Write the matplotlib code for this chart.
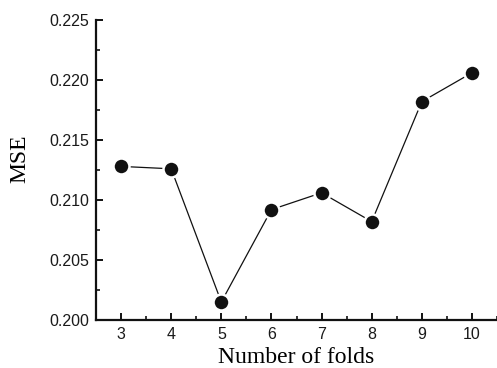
import matplotlib
matplotlib.use("Agg")
import matplotlib.pyplot as plt
from matplotlib.ticker import MultipleLocator

folds = [3, 4, 5, 6, 7, 8, 9, 10]
mse = [0.2128, 0.2126, 0.2015, 0.2092, 0.2106, 0.2082, 0.2182, 0.2206]
xticks = [3, 4, 5, 6, 7, 8, 9, 10]
yticks = [0.200, 0.205, 0.210, 0.215, 0.220, 0.225]

fig = plt.figure(figsize=(4.97, 3.68), dpi=100)
ax = fig.add_axes([96/497, 48/368, 401/497, 300/368])

ax.plot(folds, mse, color="#111111", lw=0.9, marker="o", markersize=11.5,
        markerfacecolor="#111111", markeredgecolor="white", markeredgewidth=1.8,
        clip_on=False, zorder=3)

ax.set_xlim(2.5, 10.5)
ax.set_ylim(0.200, 0.225)
ax.set_xticks(xticks)
ax.set_yticks(yticks)
ax.set_yticklabels([f"{v:.3f}" for v in yticks])
ax.xaxis.set_minor_locator(MultipleLocator(0.5))
ax.yaxis.set_minor_locator(MultipleLocator(0.0025))

for s in ["top", "right"]:
    ax.spines[s].set_visible(False)
for s in ["left", "bottom"]:
    ax.spines[s].set_linewidth(1.6)
    ax.spines[s].set_color("#111111")

ax.tick_params(which="major", direction="in", length=5, width=1.4, color="#111111",
               labelsize=11.5, pad=5)
ax.tick_params(which="minor", direction="in", length=3, width=1.2, color="#111111")
for lab in ax.get_xticklabels() + ax.get_yticklabels():
    lab.set_fontfamily("Liberation Sans")
    lab.set_color("#1a1a1a")

ax.set_xlabel("Number of folds", fontfamily="Liberation Serif", fontsize=17, labelpad=3.5)
ax.set_ylabel("MSE", fontfamily="Liberation Serif", fontsize=17)
ax.yaxis.set_label_coords(-0.163, 0.537)

fig.savefig("out.png", dpi=100)
